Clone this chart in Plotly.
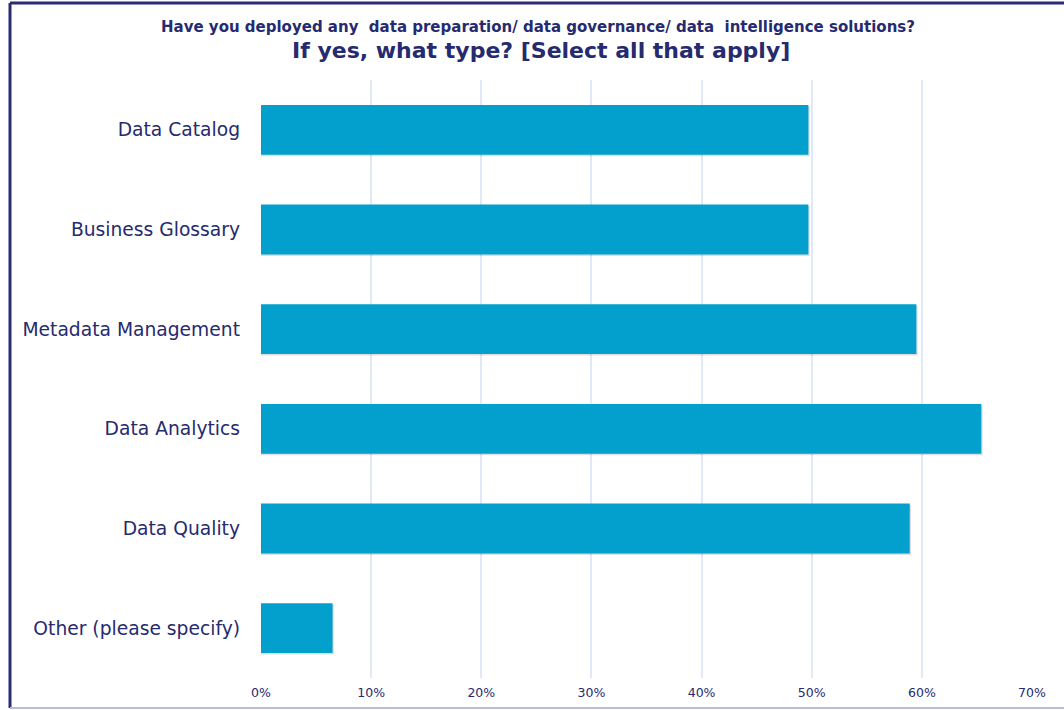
import plotly.graph_objects as go

categories = ["Data Catalog", "Business Glossary", "Metadata Management",
              "Data Analytics", "Data Quality", "Other (please specify)"]
values = [49.7, 49.7, 59.5, 65.4, 58.9, 6.5]
tick_vals = [0, 10, 20, 30, 40, 50, 60, 70]
tick_text = ["0%", "10%", "20%", "30%", "40%", "50%", "60%", "70%"]

title_line1 = "Have you deployed any  data preparation/ data governance/ data  intelligence solutions?"
title_line2 = "If yes, what type? [Select all that apply]"

navy = "#262a6e"
bar_color = "#03a0cd"

fig = go.Figure()
# soft drop shadow
fig.add_trace(go.Bar(
    y=categories, x=[v + 0.12 for v in values], orientation="h",
    marker=dict(color="rgba(0,0,0,0.13)", line=dict(width=0)),
    width=0.5, offset=-0.235, hoverinfo="skip", showlegend=False,
))
fig.add_trace(go.Bar(
    y=categories, x=values, orientation="h",
    marker=dict(color=bar_color, line=dict(width=0)),
    width=0.5, offset=-0.25, showlegend=False,
))

fig.update_layout(
    width=1064, height=710,
    margin=dict(l=261, r=32, t=80, b=32),
    paper_bgcolor="white", plot_bgcolor="white",
    barmode="overlay",
    font=dict(family="DejaVu Sans", color=navy),
    xaxis=dict(range=[0, 70], tickvals=tick_vals, ticktext=tick_text,
               showgrid=True, gridcolor="#dfe9f8", gridwidth=2,
               zeroline=False, showline=False, ticks="", automargin=False,
               tickfont=dict(size=12.5, color=navy), ticklabelstandoff=5),
    yaxis=dict(autorange="reversed", categoryorder="array", categoryarray=categories,
               range=[5.5, -0.5], showgrid=False, zeroline=False, showline=False,
               ticks="", automargin=False,
               tickfont=dict(size=18.7, color=navy), ticklabelstandoff=20),
    annotations=[
        dict(text="<b>" + title_line1 + "</b>", xref="paper", yref="paper",
             x=(538 - 261) / 771, y=(678 - 27) / 598, showarrow=False,
             xanchor="center", yanchor="middle",
             font=dict(size=15, color=navy, family="DejaVu Sans")),
        dict(text="<b>" + title_line2 + "</b>", xref="paper", yref="paper",
             x=(541 - 261) / 771, y=(678 - 50) / 598, showarrow=False,
             xanchor="center", yanchor="middle",
             font=dict(size=22, color=navy, family="DejaVu Sans")),
    ],
    shapes=[
        dict(type="line", xref="paper", yref="paper",
             x0=-251 / 771, x1=1100 / 771, y0=(678 - 3) / 598, y1=(678 - 3) / 598,
             line=dict(color="#2a2d72", width=3)),
        dict(type="line", xref="paper", yref="paper",
             x0=-251 / 771, x1=-251 / 771, y0=(678 - 708) / 598, y1=(678 - 3) / 598,
             line=dict(color="#2a2d72", width=3)),
        dict(type="line", xref="paper", yref="paper",
             x0=-251 / 771, x1=1100 / 771, y0=(678 - 708) / 598, y1=(678 - 708) / 598,
             line=dict(color="#b9bcd6", width=2)),
    ],
)

fig.write_html("out.html")
